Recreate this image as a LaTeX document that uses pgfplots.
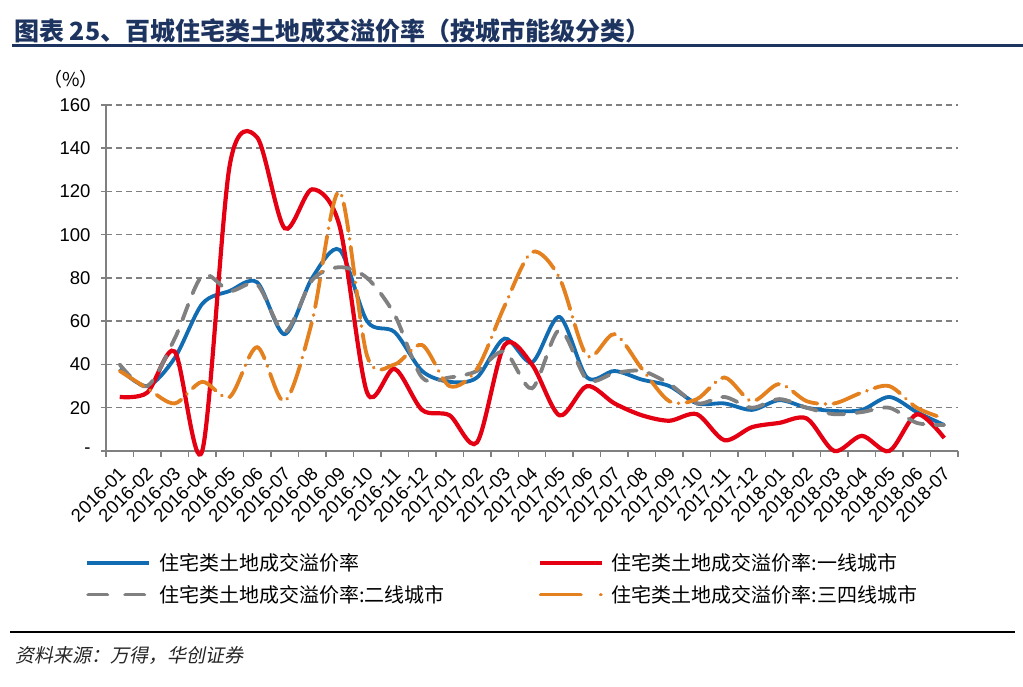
\documentclass[border=0pt]{standalone}
\usepackage{pgfplots}
\pgfplotsset{compat=1.18}
\usepackage{pgfplotstable}
\usepackage{fontspec}
\setmainfont{Liberation Sans}
\newfontfamily\cjk{Noto Sans CJK SC}
\newfontfamily\cjkit{Noto Sans CJK SC}[FakeSlant=0.2]
\definecolor{cblue}{RGB}{18,108,178}
\definecolor{cred}{RGB}{228,0,18}
\definecolor{cgray}{RGB}{128,128,128}
\definecolor{corange}{RGB}{228,128,30}
\definecolor{navy}{RGB}{30,52,96}
\definecolor{axgray}{RGB}{128,128,128}

\pgfplotsset{
  graylegend/.style={legend image code/.code={\draw[##1, dash pattern=on 19pt off 18pt] (1pt,0pt) -- (61pt,0pt);}},
  orangelegend/.style={legend image code/.code={\draw[##1, dash pattern=on 40pt off 20pt on 0.01pt off 10pt] (1pt,0pt) -- (62pt,0pt);}},
}

\pgfplotstableread{
x b r g o
0 38 25 40 37
1 30 27 30 29
2 43 46 52 22
3 68 0 81 32
4 74 132 74 25
5 78 145 77 48
6 54 103 55 23
7 80 121 79 60
8 93 104 85 120
9 60 27 80 44
10 55 38 63 40
11 37 19 34 49
12 32 16.5 34 30
13 34 4 37 38
14 52 49 46 67
15 41 40 29 92
16 62 16.5 56 80
17 34 30 33 44
18 37 22 36 54
19 33 16.5 37 38
20 30 14 31 23
21 22 17 22 24
22 22 5 25 34
23 19 11 20 23
24 23.5 13 24 31
25 20 15 20 23
26 18.5 0 17 22
27 19 7 18 27
28 25 0 20 30
29 18 17 13 20
30 12 6 12 15
}\data

\begin{document}
\begin{tikzpicture}
\useasboundingbox (0pt,0pt) rectangle (1023pt,687pt);
\fill[white] (0pt,0pt) rectangle (1023pt,687pt);
\node[anchor=west, font=\cjk\bfseries\fontsize{25}{29}\selectfont, text=navy, inner sep=0] at (14pt,656pt) {图表 25、百城住宅类土地成交溢价率（按城市能级分类）};
\draw[navy, line width=3pt] (12pt,641pt) -- (1023pt,641pt);
\node[font=\cjk\fontsize{19}{22}\selectfont, inner sep=0] at (71pt,608pt) {（\%）};
\begin{axis}[
 at={(106pt,236pt)}, anchor=south west,
 width=852pt, height=346pt, scale only axis,
 xmin=-0.5, xmax=30.5, ymin=0, ymax=160,
 clip=false,
 axis x line*=bottom, axis y line*=left,
 axis line style={draw=axgray, line width=1.5pt},
 xtick={0,...,30},
 xticklabels={2016-01,2016-02,2016-03,2016-04,2016-05,2016-06,2016-07,2016-08,2016-09,2016-10,2016-11,2016-12,2017-01,2017-02,2017-03,2017-04,2017-05,2017-06,2017-07,2017-08,2017-09,2017-10,2017-11,2017-12,2018-01,2018-02,2018-03,2018-04,2018-05,2018-06,2018-07},
 minor xtick={-0.5,0.5,...,30.5},
 major x tick style={draw=none},
 minor x tick style={draw=axgray, line width=1.5pt},
 minor tick length=6pt,
 tick align=outside,
 ytick={0,20,...,160},
 yticklabels={-,20,40,60,80,100,120,140,160},
 y tick style={draw=axgray, line width=1.5pt},
 major tick length=5pt,
 ymajorgrids,
 grid style={draw=axgray, line width=1.5pt, dash pattern=on 6pt off 4pt},
 tick label style={font=\fontsize{18.5}{20}\selectfont},
 yticklabel style={xshift=-7pt},
 xticklabel style={xshift=5pt, yshift=-12pt, rotate=45, anchor=east},
 legend columns=2,
 legend cell align=left,
 legend style={at={(-0.028,-0.285)}, anchor=north west, draw=none, fill=none,
   font=\cjk\fontsize{20}{24}\selectfont, row sep=9pt,
   /tikz/every odd column/.append style={column sep=6pt},
   /tikz/every even column/.append style={column sep=91pt}},
 legend image code/.code={\draw[#1] (0pt,0pt) -- (62pt,0pt);},
]
\addplot[cblue, line width=3.8pt, smooth] table[x=x,y=b]{\data};
\addlegendentry{住宅类土地成交溢价率}
\addplot[cred, line width=4.2pt, smooth] table[x=x,y=r]{\data};
\addlegendentry{住宅类土地成交溢价率:一线城市}
\addplot[cgray, line width=3.8pt, smooth, dash pattern=on 16pt off 12pt, line cap=round, graylegend] table[x=x,y=g]{\data};
\addlegendentry{住宅类土地成交溢价率:二线城市}
\addplot[corange, line width=3.8pt, smooth, dash pattern=on 28pt off 8pt on 0.01pt off 8pt, line cap=round, orangelegend] table[x=x,y=o]{\data};
\addlegendentry{住宅类土地成交溢价率:三四线城市}
\end{axis}
\draw[black, line width=2.5pt] (10pt,55pt) -- (1015pt,55pt);
\node[anchor=west, font=\cjkit\fontsize{19}{22}\selectfont, inner sep=0, text=black!85] at (15pt,31pt) {资料来源：万得，华创证券};
\end{tikzpicture}
\end{document}
